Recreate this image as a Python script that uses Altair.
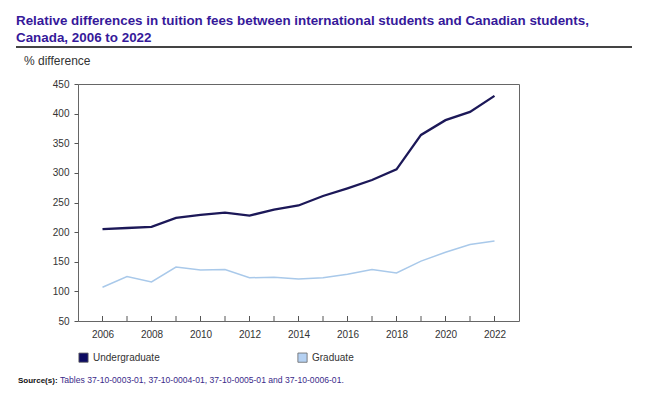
import altair as alt
import pandas as pd

years = list(range(2006, 2023))
undergrad = [205, 207, 209, 224, 229, 233, 228, 238, 245, 261, 274, 288, 306, 364, 389, 403, 430]
graduate = [107, 125, 116, 141, 136, 137, 123, 124, 121, 123, 129, 137, 131, 151, 166, 179, 185]
series_names = ["Undergraduate", "Graduate"]
line_colors = ["#1c1858", "#a9c9ea"]
legend_fills = ["#0d0b62", "#b5d1f2"]
y_ticks = [50, 100, 150, 200, 250, 300, 350, 400, 450]
x_labels = [2006, 2008, 2010, 2012, 2014, 2016, 2018, 2020, 2022]

title_lines = ["Relative differences in tuition fees between international students and Canadian students,",
               "Canada, 2006 to 2022"]
y_title = "% difference"
source_label = "Source(s):"
source_text = "Tables 37-10-0003-01, 37-10-0004-01, 37-10-0005-01 and 37-10-0006-01."

FONT = "Liberation Sans, Arial"

df = pd.DataFrame({
    "year": years * 2,
    "value": undergrad + graduate,
    "series": [series_names[0]] * len(years) + [series_names[1]] * len(years),
})
ticks_df = pd.DataFrame({"year": years})
one = pd.DataFrame({"k": [0]})

W, H = 441, 237

xscale = alt.Scale(domain=[2005, 2023], nice=False)
yscale = alt.Scale(domain=[50, 450], nice=False)

x_axis = alt.Axis(values=x_labels, format="d", ticks=False, domain=False, grid=False,
                  labelPadding=8, title=None, labelFontSize=10, labelColor="#333",
                  labelFont=FONT, labelOverlap=False)
y_axis = alt.Axis(values=y_ticks, tickSize=4, tickColor="#555", domain=False, grid=False,
                  labelPadding=5, title=None, labelFontSize=10, labelColor="#333",
                  labelFont=FONT, labelOverlap=False)

x_enc = alt.X("year:Q", scale=xscale, axis=x_axis)
y_enc = alt.Y("value:Q", scale=yscale, axis=y_axis)

base = alt.Chart(df)

ug_line = base.transform_filter(alt.datum.series == series_names[0]).mark_line(
    color=line_colors[0], strokeWidth=2.3).encode(x=x_enc, y=y_enc)
gr_line = base.transform_filter(alt.datum.series == series_names[1]).mark_line(
    color=line_colors[1], strokeWidth=1.5).encode(x=x_enc, y=y_enc)

legend_layer = base.transform_filter(alt.datum.value < 0).mark_square().encode(
    x=x_enc, y=y_enc,
    fill=alt.Fill("series:N",
                  scale=alt.Scale(domain=series_names, range=legend_fills),
                  legend=alt.Legend(orient="none", legendX=0, legendY=268, direction="horizontal",
                                    title=None, symbolType="square", symbolSize=85,
                                    symbolStrokeColor="#666", symbolStrokeWidth=0.8,
                                    symbolOpacity=1,
                                    labelFont=FONT, labelFontSize=10, labelColor="#333",
                                    labelOffset=4, columnPadding=136)))

in_ticks = alt.Chart(ticks_df).mark_rule(color="#555", strokeWidth=1).encode(
    x=alt.X("year:Q", scale=xscale, axis=x_axis),
    y=alt.Y(datum=50, scale=yscale, axis=y_axis),
    y2=alt.value(H - 5))

TITLE_SIZE = 13.4
t1 = alt.Chart(one).mark_text(text=title_lines[0], align="left", baseline="alphabetic",
                              font=FONT, fontSize=TITLE_SIZE, fontWeight="bold", color="#36199a").encode(
    x=alt.value(-62), y=alt.value(-59))
t2 = alt.Chart(one).mark_text(text=title_lines[1], align="left", baseline="alphabetic",
                              font=FONT, fontSize=TITLE_SIZE, fontWeight="bold", color="#36199a").encode(
    x=alt.value(-62), y=alt.value(-42))
hr = alt.Chart(one).mark_rule(color="#444", strokeWidth=2).encode(
    x=alt.value(-62), x2=alt.value(562), y=alt.value(-37))
yt = alt.Chart(one).mark_text(text=y_title, align="left", baseline="alphabetic",
                              font=FONT, fontSize=12, color="#333").encode(
    x=alt.value(-54), y=alt.value(-19))
s1 = alt.Chart(one).mark_text(text=source_label, align="left", baseline="alphabetic",
                              font=FONT, fontSize=8, fontWeight="bold", color="#111").encode(
    x=alt.value(-60), y=alt.value(299))
s2 = alt.Chart(one).mark_text(text=source_text, align="left", baseline="alphabetic",
                              font=FONT, fontSize=8.6, color="#3a2a8a").encode(
    x=alt.value(-18), y=alt.value(299))

chart = alt.layer(ug_line, gr_line, in_ticks, legend_layer, t1, t2, hr, yt, s1, s2).properties(
    width=W, height=H,
    autosize=alt.AutoSizeParams(type="none"),
    padding={"left": 70, "top": 76, "right": 113, "bottom": 67},
    background="white",
).configure_view(stroke="#666", strokeWidth=1)

chart.save("out.html", embed_options={"renderer": "svg", "actions": False})
